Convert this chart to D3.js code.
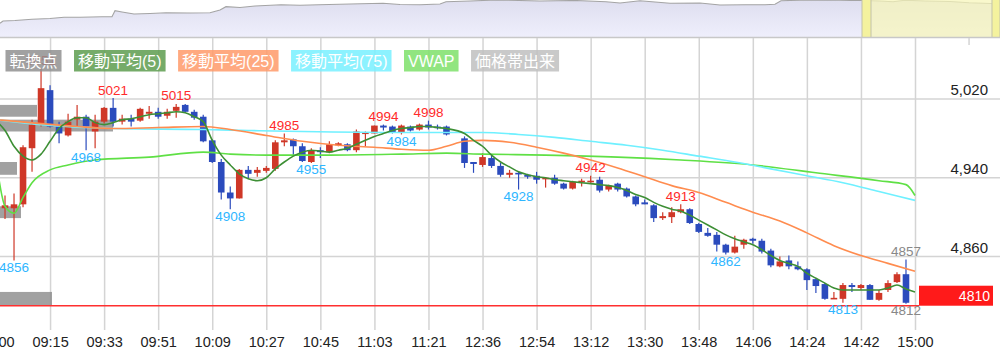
<!DOCTYPE html>
<html><head><meta charset="utf-8">
<script src="https://cdn.jsdelivr.net/npm/d3@7"></script>
<style>
html,body{margin:0;padding:0;background:#fff;overflow:hidden;}
svg{display:block;font-family:"Liberation Sans",Arial,"Noto Sans CJK JP",sans-serif;}
</style></head><body>
<svg id="chart" width="1000" height="360"></svg>
<script>
// ---------- data ----------
const tickLabels = ["09:00","09:15","09:33","09:51","10:09","10:27","10:45","11:03","11:21","12:36","12:54","13:12","13:30","13:48","14:06","14:24","14:42","15:00"];
const tickIdx    = [-1,5,11,17,23,29,35,41,47,53,59,65,71,77,83,89,95,101];
const yTicks = [4860, 4940, 5020];

// 3-minute candles, slot 50 (11:30) empty
const open  = [4909,4909,4913,4970,4995,5029,4992,4983,4999,5002,4987,4997,5011,4997,5000,4998,5005,5007,5003,5008,5014,5007,5002,4978,4956,4925,4919,4948,4945,4947,4949,4976,4979,4972,4956,4968,4966,4973,4974,4968,4985,4985,4993,4992,4986,4992,4989,4994,4992,4992,null,4980,4956,4953,4960,4952,4943,4945,4943,4942,4939,4940,4934,4929,4936,4936,4938,4928,4934,4929,4921,4915,4912,4899,4900,4905,4908,4893,4884,4882,4872,4864,4872,4878,4876,4866,4850,4856,4850,4847,4837,4832,4817,4817,4831,4828,4831,4816,4826,4834,4842];
const high  = [4922,4924,4973,4999,5051,5034,4997,5005,5014,5004,5004,5012,5021,5004,5004,5011,5013,5011,5010,5015,5015,5009,5004,4979,4959,4931,4949,4952,4951,4952,4978,4985,4980,4975,4970,4971,4977,4976,4975,4989,4987,4993,4994,4993,4994,4993,4995,4998,4994,4993,null,4982,4956,4965,4963,4955,4948,4946,4944,4946,4940,4943,4935,4937,4939,4942,4941,4933,4935,4930,4922,4918,4913,4905,4910,4913,4909,4894,4889,4885,4873,4881,4878,4879,4878,4868,4860,4861,4855,4848,4838,4833,4824,4833,4833,4832,4832,4826,4836,4844,4857];
const low   = [4898,4856,4910,4946,4992,4991,4975,4982,4992,4968,4970,4995,4992,4994,4992,4997,5000,5000,5000,5001,5006,4999,4976,4955,4918,4908,4919,4939,4941,4945,4947,4972,4963,4956,4955,4960,4965,4972,4967,4966,4972,4985,4988,4985,4984,4987,4988,4989,4989,4983,null,4950,4945,4951,4950,4941,4940,4928,4939,4934,4930,4933,4928,4928,4931,4935,4925,4926,4926,4920,4911,4913,4895,4897,4894,4904,4893,4884,4880,4865,4862,4863,4868,4873,4863,4849,4849,4847,4846,4826,4823,4816,4817,4813,4824,4826,4816,4815,4824,4833,4812];
const close = [4912,4913,4971,4994,5031,4992,4985,4997,5002,4992,4997,5011,4997,5000,4997,5010,5007,5002,5007,5012,5007,5001,4977,4956,4925,4919,4948,4944,4948,4950,4976,4978,4972,4957,4968,4966,4974,4975,4968,4987,4986,4993,4991,4986,4993,4988,4994,4991,4991,4984,null,4955,4954,4961,4952,4943,4945,4944,4941,4938,4940,4934,4929,4936,4937,4937,4927,4932,4928,4921,4913,4913,4899,4901,4905,4908,4894,4885,4881,4872,4864,4870,4877,4876,4865,4851,4855,4850,4847,4836,4830,4817,4818,4831,4829,4831,4816,4823,4833,4842,4813];

// turning points
const pivotHighIdx = [4,12,19,31,42,47,65,75];
const pivotHighVal = [5051,5021,5015,4985,4994,4998,4942,4913];
const pivotLowIdx  = [1,9,25,34,44,57,80,93];
const pivotLowVal  = [4856,4968,4908,4955,4984,4928,4862,4813];
const liveIdx = 100, liveHigh = 4857, liveLow = 4812;
const currentPrice = 4810;

// moving averages / VWAP
const ma5Idx = [-1,0,1,2,3,4,5,6,7,8,9,10,11,12,13,14,15,16,17,18,19,20,21,22,23,24,25,26,27,28,29,30,31,32,33,34,35,36,37,38,39,40,41,42,43,44,45,46,47,48,49,51,52,53,54,55,56,57,58,59,60,61,62,63,64,65,66,67,68,69,70,71,72,73,74,75,76,77,78,79,80,81,82,83,84,85,86,87,88,89,90,91,92,93,94,95,96,97,98,99,100,101];
const ma5Val = [4998,4988,4972,4962,4958,4964,4977,4990,4997,5001,5001,4996,4994,4996,4999,5000,5002,5004,5005,5006,5007,5006,5002,4997,4978,4963,4953,4944,4939,4937,4940,4949,4956,4962,4966,4968,4967,4966,4968,4970,4974,4978,4982,4985,4988,4990,4991,4992,4992,4991,4990,4985,4978,4972,4963,4956,4951,4946,4943,4941,4940,4938,4937,4936,4935,4934,4933,4932,4930,4927,4923,4920,4915,4911,4908,4906,4902,4897,4892,4887,4882,4878,4875,4872,4867,4861,4856,4853,4850,4843,4838,4833,4828,4826,4826,4826,4826,4826,4828,4831,4827,4824];
const ma25Idx = [-1,4,8,12,17,22,25,29,33,37,41,44,47,49,51,53,56,59,62,65,68,71,74,77,80,83,86,89,92,95,98,101];
const ma25Val = [4999,4995,4992,4990,4991,4992,4989,4983,4977,4973,4971,4969,4968,4972,4977,4978,4976,4971,4965,4958,4950,4941,4932,4925,4915,4905,4896,4884,4871,4861,4853,4845];
const ma75Idx = [-1,4,12,22,27,33,44,49,53,57,61,65,69,73,77,81,85,89,93,97,101];
const ma75Val = [4999,4994,4990,4989,4988,4987,4986,4986,4986,4984,4981,4977,4973,4968,4962,4956,4949,4942,4935,4926,4917];
const vwapIdx = [-1,0,1,2,3,5,7,10,16,22,25,29,36,44,49,53,60,68,75,83,90,97,100,101];
const vwapVal = [4958,4911,4904,4920,4935,4948,4953,4958,4961,4966,4964,4963,4963,4964,4965,4964,4963,4961,4958,4953,4945,4937,4933,4922];

// price-band volume (価格帯出来高)
const vpLow  = [5002,4987,4943,4899,4810];
const vpHigh = [5014,4999,4956,4911,4824];
const vpVol  = [37,113,17,21,52];

// navigator history
const navT = [0,0.3,1.5,3.2,5,6.4,8,10.2,11.2,11.5,12.2,13.4,15,16.6,19,21,22,22.6,24,25.5,28.1,30,31.9,35,38.3,40,42,44,44.6,47,49.7,54,57.5,60.6,62,64,67,70,72,74.5,76.5,77.5,78.1,80,82.9,85,86.1,88,89.3,90.5,92.5,95,96.9,99,100];
const navV = [4595,4643,4654,4679,4695,4720,4720,4733,4733,4857,4830,4789,4799,4816,4810,4816,4872,4941,4924,4955,4982,4972,4982,4997,5011,4986,4982,4997,5045,5059,5080,5059,5070,5045,5018,5065,5011,5018,4976,4982,4982,4991,5065,5074,5080,5070,5070,5059,5045,5074,5059,5049,5024,5007,4997];

const legendNames  = ["転換点","移動平均(5)","移動平均(25)","移動平均(75)","VWAP","価格帯出来"];
const legendColors = ["#909090","#5d9c4f","#ff9a6a","#78f0ff","#7ee06a","#c0c0c0"];

// ---------- scales ----------
const svg = d3.select("#chart");
const x = d3.scaleLinear().domain([-1, 101]).range([-4, 915]);
const y = d3.scaleLinear().domain([4860, 5020]).range([256.5, 99]);
const navX = d3.scaleLinear().domain([0, 100]).range([0, 1000]);
const navY = d3.scaleLinear().domain([4300, 5080]).range([37.5, 0]);
const vpW = d3.scaleLinear().domain([0, 113]).range([0, 113]);

const defs = svg.append("defs");
const grad = defs.append("linearGradient").attr("id","navGrad").attr("x1",0).attr("y1",0).attr("x2",0).attr("y2",1);
grad.append("stop").attr("offset","0%").attr("stop-color","#dedeef");
grad.append("stop").attr("offset","100%").attr("stop-color","#efeffc");
defs.append("clipPath").attr("id","plotClip").append("rect").attr("x",0).attr("y",38).attr("width",918).attr("height",292);

// ---------- navigator ----------
const navPts = navT.map((t,i)=>[t,navV[i]]);
const nav = svg.append("g");
nav.append("path").datum(navPts)
  .attr("d", d3.area().x(d=>navX(d[0])).y0(37.5).y1(d=>navY(d[1])))
  .attr("fill","url(#navGrad)");
nav.append("path").datum(navPts)
  .attr("d", d3.line().x(d=>navX(d[0])).y(d=>navY(d[1])))
  .attr("fill","none").attr("stroke","#a4a4a4").attr("stroke-width",1.1);
nav.append("rect").attr("x",navX(86.2)).attr("y",0).attr("width",navX(100)-navX(86.2)).attr("height",37.5)
  .attr("fill","#f7f5b8").attr("opacity",0.72);
[[86.2,87.1],[99.2,100]].forEach(h=>{
  nav.append("rect").attr("x",navX(h[0])).attr("y",-1).attr("width",navX(h[1])-navX(h[0])).attr("height",38.5)
    .attr("fill","#f4f29e").attr("stroke","#c2c2aa").attr("stroke-width",1);
});
nav.append("line").attr("x1",0).attr("x2",1000).attr("y1",37.5).attr("y2",37.5).attr("stroke","#c8c8c8").attr("stroke-width",1.5);
nav.append("line").attr("x1",x(107)).attr("x2",x(107)).attr("y1",38).attr("y2",45).attr("stroke","#d4d4d4").attr("stroke-width",1.5);

// ---------- grid + axes ----------
const xAxis = d3.axisBottom(x).tickValues(tickIdx).tickFormat((d,i)=>tickLabels[i])
  .tickSizeInner(-(330-38)).tickSizeOuter(0).tickPadding(7);
const gx = svg.append("g").attr("transform","translate(0,330)").call(xAxis);
gx.select(".domain").remove();
gx.selectAll(".tick line").attr("stroke","#d4d4d4").attr("stroke-width",1.5);
gx.selectAll(".tick text").attr("fill","#222").style("font-size","14.5px").style("font-family",'"Liberation Sans",Arial,sans-serif');

const gy = svg.append("g");
gy.selectAll("line").data(yTicks).join("line")
  .attr("x1",0).attr("x2",1000).attr("y1",d=>y(d)).attr("y2",d=>y(d))
  .attr("stroke","#d4d4d4").attr("stroke-width",1.5);
gy.selectAll("text").data(yTicks).join("text")
  .attr("x",988).attr("y",d=>y(d)-4).attr("text-anchor","end")
  .attr("fill","#222").style("font-size","15px").text(d=>d3.format(",")(d));

// ---------- plot ----------
const plot = svg.append("g").attr("clip-path","url(#plotClip)");

// volume profile
plot.selectAll("rect.vp").data(vpVol.map((v,i)=>i)).join("rect").attr("class","vp")
  .attr("x",0).attr("y",i=>y(vpHigh[i])).attr("width",i=>vpW(vpVol[i]))
  .attr("height",i=>y(vpLow[i])-y(vpHigh[i]))
  .attr("fill","#8a8a8a").attr("opacity",0.8);

// candles
const UP="#cf3727", DOWN="#2b4bbd";
const idx = d3.range(open.length).filter(i=>open[i]!=null);
const cg = plot.append("g");
cg.selectAll("line").data(idx).join("line")
  .attr("x1",i=>x(i)).attr("x2",i=>x(i)).attr("y1",i=>y(high[i])).attr("y2",i=>y(low[i]))
  .attr("stroke",i=>close[i]>=open[i]?UP:DOWN).attr("stroke-width",1.2);
cg.selectAll("rect").data(idx).join("rect")
  .attr("x",i=>x(i)-3.3).attr("width",6.6)
  .attr("y",i=>y(Math.max(open[i],close[i])))
  .attr("height",i=>Math.max(1.6, Math.abs(y(open[i])-y(close[i]))))
  .attr("fill",i=>close[i]>=open[i]?UP:DOWN);

// lines
const lineGen = d3.line().x(d=>x(d[0])).y(d=>y(d[1])).curve(d3.curveMonotoneX);
function drawLine(ix, vals, color, w){
  plot.append("path").datum(ix.map((k,i)=>[k,vals[i]]))
    .attr("d",lineGen).attr("fill","none").attr("stroke",color).attr("stroke-width",w);
}
drawLine(vwapIdx, vwapVal, "#5fe045", 1.6);
drawLine(ma75Idx, ma75Val, "#6ff0ff", 1.6);
drawLine(ma25Idx, ma25Val, "#ff8c4f", 1.6);
drawLine(ma5Idx, ma5Val, "#3d8f35", 1.6);

// price line
svg.append("line").attr("x1",0).attr("x2",919).attr("y1",y(currentPrice)).attr("y2",y(currentPrice))
  .attr("stroke","#ff3030").attr("stroke-width",1.6);

// pivot labels
const lab = svg.append("g").style("font-size","13.5px").attr("text-anchor","middle");
lab.selectAll("text.h").data(pivotHighIdx.map((k,i)=>i)).join("text").attr("class","h")
  .attr("x",i=>x(pivotHighIdx[i])).attr("y",i=>y(pivotHighVal[i])-3.5)
  .attr("fill","#ff2b2b").text(i=>pivotHighVal[i]);
lab.selectAll("text.l").data(pivotLowIdx.map((k,i)=>i)).join("text").attr("class","l")
  .attr("x",i=>x(pivotLowIdx[i])).attr("y",i=>y(pivotLowVal[i])+11.5)
  .attr("fill","#2fb6ff").text(i=>pivotLowVal[i]);
lab.append("text").attr("x",x(liveIdx)).attr("y",y(liveHigh)-3.5).attr("fill","#888").text(liveHigh);
lab.append("text").attr("x",x(liveIdx)).attr("y",y(liveLow)+11.5).attr("fill","#888").text(liveLow);

// current price box
const py = y(currentPrice);
svg.append("rect").attr("x",919).attr("y",py-20).attr("width",74).attr("height",20).attr("fill","#ff1a1a");
svg.append("text").attr("x",990).attr("y",py-5).attr("text-anchor","end").attr("fill","#fff")
  .style("font-size","14px").text(currentPrice);

// legend
const lg = svg.append("g");
let lx = 5.5;
legendNames.forEach((name,i)=>{
  const g = lg.append("g");
  const r = g.append("rect").attr("y",50).attr("height",21.5).attr("fill",legendColors[i]).attr("opacity",0.85);
  const t = g.append("text").attr("y",66.5).attr("fill","#fff").style("font-size","16px").text(name);
  const w = t.node().getComputedTextLength();
  r.attr("x",lx).attr("width",w+8);
  t.attr("x",lx+4);
  lx += w + 8 + 12.5;
});
</script>
</body></html>
